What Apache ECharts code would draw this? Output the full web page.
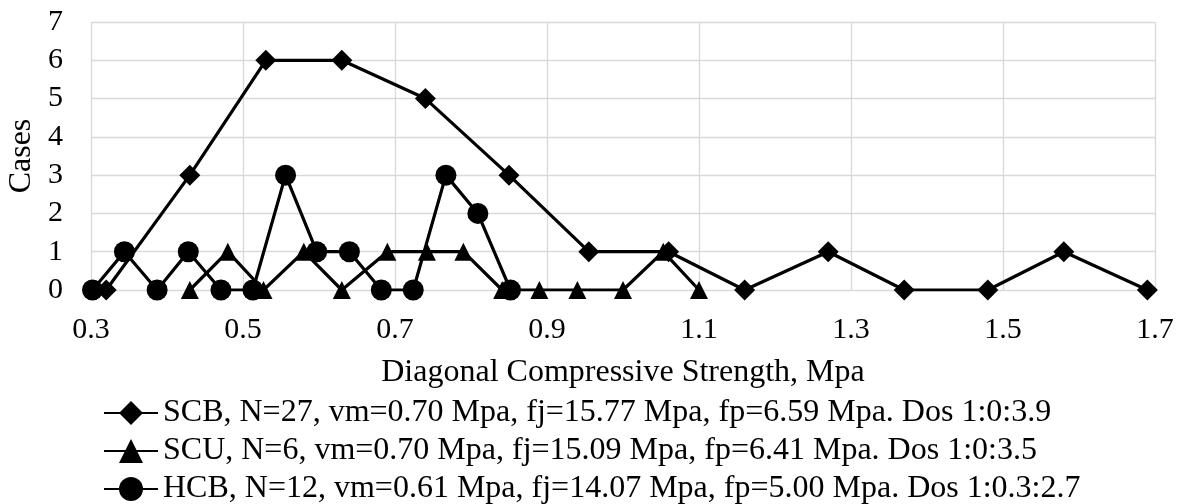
<!DOCTYPE html>
<html>
<head>
<meta charset="utf-8">
<script src="https://cdn.jsdelivr.net/npm/echarts@6/dist/echarts.min.js"></script>
<style>
html,body{margin:0;padding:0;background:#fff;}
#chart{width:1184px;height:504px;}
</style>
</head>
<body>
<div id="chart"></div>
<script>
// Data
const scbName = 'SCB, N=27, vm=0.70 Mpa, fj=15.77 Mpa, fp=6.59 Mpa. Dos 1:0:3.9';
const scuName = 'SCU, N=6, vm=0.70 Mpa, fj=15.09 Mpa, fp=6.41 Mpa. Dos 1:0:3.5';
const hcbName = 'HCB, N=12, vm=0.61 Mpa, fj=14.07 Mpa, fp=5.00 Mpa. Dos 1:0.3:2.7';

const scbX = [0.32, 0.43, 0.53, 0.63, 0.74, 0.85, 0.955, 1.06, 1.16, 1.27, 1.37, 1.48, 1.58, 1.69];
const scbY = [0, 3, 6, 6, 5, 3, 1, 1, 0, 1, 0, 0, 1, 0];

const scuX = [0.43, 0.48, 0.527, 0.58, 0.63, 0.69, 0.742, 0.79, 0.841, 0.89, 0.94, 1.0, 1.053, 1.10];
const scuY = [0, 1, 0, 1, 0, 1, 1, 1, 0, 0, 0, 0, 1, 0];

const hcbX = [0.302, 0.344, 0.387, 0.428, 0.471, 0.513, 0.556, 0.597, 0.64, 0.682, 0.724, 0.767, 0.809, 0.852];
const hcbY = [0, 1, 0, 1, 0, 0, 3, 1, 1, 0, 0, 3, 2, 0];

const xTickLabels = ['0.3', '0.5', '0.7', '0.9', '1.1', '1.3', '1.5', '1.7'];
const yTickLabels = ['0', '1', '2', '3', '4', '5', '6', '7'];

const xTitle = 'Diagonal Compressive Strength, Mpa';
const yTitle = 'Cases';

function pairs(xs, ys) { return xs.map((x, i) => [x, ys[i]]); }

const FONT = 'Liberation Serif';
const FS_TICK = 30;
const FS_TEXT = 32;

const chart = echarts.init(document.getElementById('chart'), null, { renderer: 'canvas' });

function lineSeries(name, xs, ys, symbol, size) {
  return {
    name: name,
    type: 'line',
    data: pairs(xs, ys),
    symbol: symbol,
    symbolSize: size,
    showAllSymbol: true,
    lineStyle: { color: '#000', width: 3.2 },
    itemStyle: { color: '#000' },
    emphasis: { disabled: true },
    animation: false
  };
}

function legendRow(name, top) {
  return {
    orient: 'horizontal',
    left: 103,
    top: top,
    padding: 0,
    itemWidth: 54,
    itemHeight: 30,
    itemGap: 0,
    selectedMode: false,
    data: [name],
    textStyle: { fontFamily: FONT, fontSize: FS_TEXT, color: '#000', lineHeight: 32 }
  };
}

chart.setOption({
  backgroundColor: '#fff',
  animation: false,
  textStyle: { fontFamily: FONT, color: '#000' },
  grid: { left: 91, right: 29, top: 22, bottom: 214, containLabel: false, outerBoundsMode: 'none' },
  xAxis: {
    type: 'value',
    min: 0.3,
    max: 1.7,
    interval: 0.1,
    name: xTitle,
    nameLocation: 'middle',
    nameGap: 67,
    nameTextStyle: { fontFamily: FONT, fontSize: FS_TEXT, color: '#000' },
    axisLine: { show: false },
    axisTick: { show: false },
    axisLabel: {
      fontFamily: FONT, fontSize: FS_TICK, color: '#000', margin: 25,
      showMinLabel: true, showMaxLabel: true,
      formatter: function (v) {
        const s = (Math.round(v * 10) / 10).toFixed(1);
        return xTickLabels.indexOf(s) >= 0 ? s : '';
      }
    },
    splitLine: { show: true, lineStyle: { color: ['#d9d9d9', 'rgba(0,0,0,0)'], width: 1.3 } }
  },
  yAxis: {
    type: 'value',
    min: 0,
    max: 7,
    interval: 1,
    name: yTitle,
    nameLocation: 'middle',
    nameGap: 52,
    nameTextStyle: { fontFamily: FONT, fontSize: FS_TEXT, color: '#000' },
    axisLine: { show: false },
    axisTick: { show: false },
    axisLabel: {
      fontFamily: FONT, fontSize: FS_TICK, color: '#000', margin: 28,
      formatter: function (v) { return yTickLabels[Math.round(v)]; }
    },
    splitLine: { show: true, lineStyle: { color: '#d9d9d9', width: 1.3 } }
  },
  legend: [
    legendRow(scbName, 397),
    legendRow(scuName, 435),
    legendRow(hcbName, 473)
  ],
  series: [
    lineSeries(scbName, scbX, scbY, 'diamond', 21),
    lineSeries(scuName, scuX, scuY, 'triangle', 18),
    lineSeries(hcbName, hcbX, hcbY, 'circle', 21)
  ]
});
</script>
</body>
</html>
